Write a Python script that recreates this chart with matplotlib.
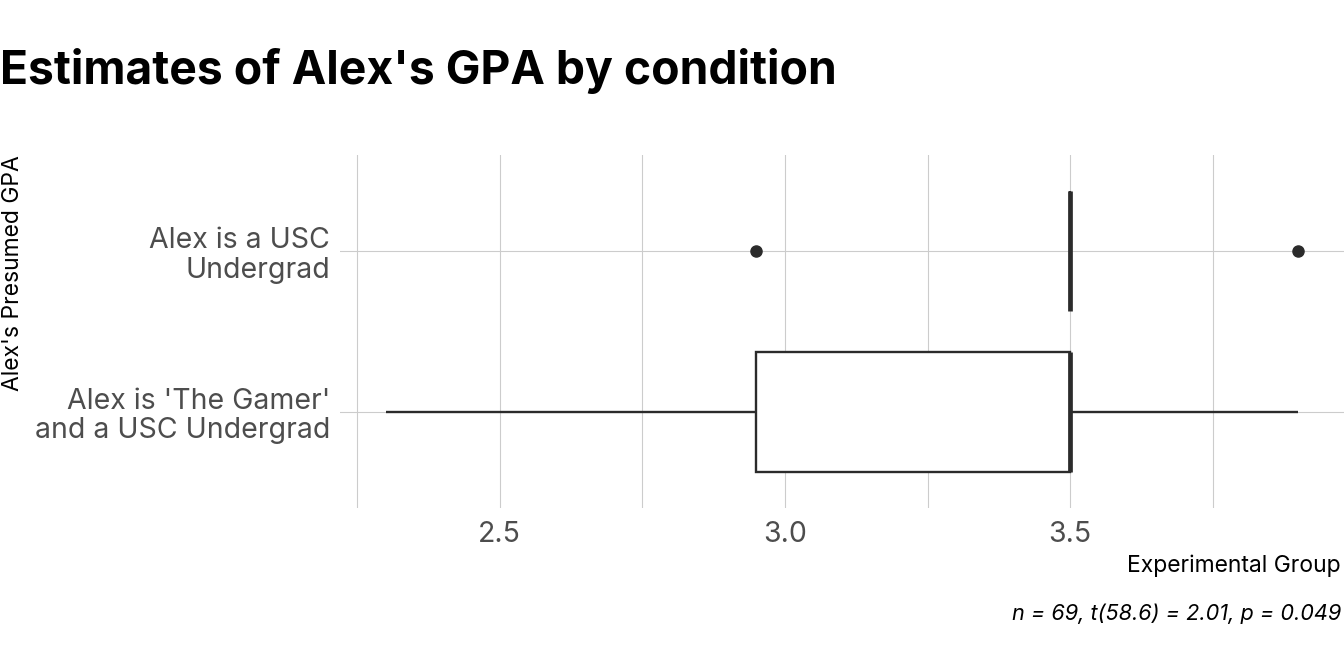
import matplotlib
matplotlib.use("Agg")
import matplotlib.pyplot as plt
from matplotlib.ticker import FixedLocator

plt.rcParams['font.family'] = ['Inter', 'DejaVu Sans']

# data
groups = ["Alex is 'The Gamer'\nand a USC Undergrad", "Alex is a USC\nUndergrad"]
q1 = [2.95, 3.5]
med = [3.5, 3.5]
q3 = [3.5, 3.5]
whis_lo = [2.3, 3.5]
whis_hi = [3.9, 3.5]
outliers = [[], [2.95, 3.9]]
major_ticks = [2.5, 3.0, 3.5]
minor_ticks = [2.25, 2.75, 3.25, 3.75]

ink = '#2b2b2b'
grid = '#cccccc'

fig = plt.figure(figsize=(13.44, 6.72), dpi=100)
ax = fig.add_axes([340 / 1344, 1 - 508 / 672, 1 - 340 / 1344, (508 - 155) / 672])

stats = []
for i in range(len(groups)):
    stats.append(dict(q1=q1[i], med=med[i], q3=q3[i], whislo=whis_lo[i],
                      whishi=whis_hi[i], fliers=outliers[i]))

ax.bxp(stats, positions=[1, 2], widths=0.75, orientation='horizontal',
       showcaps=False, patch_artist=True,
       boxprops=dict(facecolor='white', edgecolor=ink, linewidth=1.7),
       medianprops=dict(color=ink, linewidth=3.4, solid_capstyle='butt'),
       whiskerprops=dict(color=ink, linewidth=1.7, solid_capstyle='butt'),
       flierprops=dict(marker='o', markerfacecolor=ink, markeredgecolor=ink,
                       markersize=8, linestyle='none'),
       zorder=3)

ax.set_xlim(2.22, 3.98)
ax.set_ylim(0.4, 2.6)
ax.xaxis.set_major_locator(FixedLocator(major_ticks))
ax.xaxis.set_minor_locator(FixedLocator(minor_ticks))
ax.set_xticklabels([f"{t:.1f}" for t in major_ticks])
ax.set_yticks([1, 2])
ax.set_yticklabels(groups, linespacing=1.12)

ax.grid(True, which='both', axis='x', color=grid, linewidth=0.8, zorder=0)
ax.grid(True, which='major', axis='y', color=grid, linewidth=0.8, zorder=0)
ax.set_axisbelow(True)
for s in ax.spines.values():
    s.set_visible(False)
ax.tick_params(axis='both', which='both', length=0, labelsize=20.5, labelcolor='#4d4d4d')
ax.tick_params(axis='x', pad=9)
ax.tick_params(axis='y', pad=7)

fig.text(0.0, 1 - 84 / 672, "Estimates of Alex's GPA by condition",
         fontsize=33.3, fontweight='bold', color='black', ha='left', va='baseline')
fig.text(2 / 1344, 1 - 155 / 672, "Alex's Presumed GPA", rotation=90,
         fontsize=16.5, color='black', ha='left', va='top')
fig.text(1341 / 1344, 1 - 572 / 672, "Experimental Group",
         fontsize=16.5, color='black', ha='right', va='baseline')
fig.text(1341 / 1344, 1 - 620 / 672, "n = 69, t(58.6) = 2.01, p = 0.049",
         fontsize=15.6, style='italic', color='black', ha='right', va='baseline')

fig.savefig('out.png', dpi=100, facecolor='white')
